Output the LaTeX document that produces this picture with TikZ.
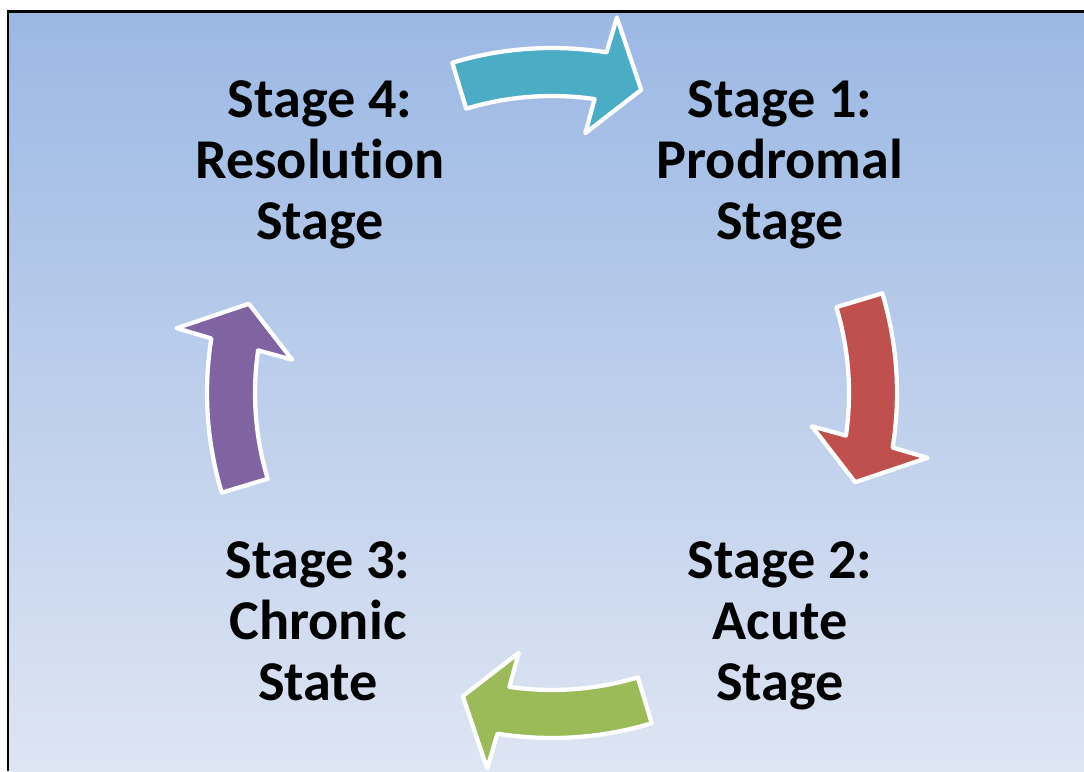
\documentclass[tikz,border=0pt]{standalone}
\usepackage{fontspec}
\setmainfont[Ligatures=NoCommon]{Carlito}
\usetikzlibrary{positioning}

\definecolor{bgTop}{RGB}{155,184,228}
\definecolor{bgBottom}{RGB}{222,229,243}
\definecolor{arrTeal}{RGB}{75,172,198}
\definecolor{arrRed}{RGB}{192,80,77}
\definecolor{arrGreen}{RGB}{155,187,89}
\definecolor{arrPurple}{RGB}{128,100,162}

\begin{document}
\begin{tikzpicture}[%
    x=0.02cm, y=0.02cm,
    stagetext/.style={align=center, inner sep=0pt,
      font=\fontsize{32}{34.6}\selectfont\bfseries},
    stagearrow/.style={draw=white, line width=0.085cm, line join=round}
  ]

  \fill[white] (0,0) rectangle (1084,771);
  \useasboundingbox (0,0) rectangle (1084,771);
  \fill[top color=bgTop, bottom color=bgBottom] (9,0) rectangle (1084,759);
  \draw[line width=0.06cm] (8,0) -- (8,759.7) -- (1084,759.7);

  \coordinate (c) at (552,378);

  \node[stagetext] (s1) at (780,606) {Stage 1:\\Prodromal\\Stage};
  \node[stagetext] (s2) at (780,145) {Stage 2:\\Acute\\Stage};
  \node[stagetext] (s3) at (318,150) {Stage 3:\\Chronic\\State};
  \node[stagetext] (s4) at (320,606) {Stage 4:\\Resolution\\Stage};

  % one arc arrow, turned round the centre for each step
  \foreach \rot/\col in {0/arrTeal, -90/arrRed, -180/arrGreen, 90/arrPurple} {
    \begin{scope}[shift={(c)}, rotate=\rot]
      \filldraw[stagearrow, fill=\col]
        (106.8:345) arc[start angle=106.8, end angle=80.9, radius=6.9cm]
        -- (80.2:381) -- (73.6:316) -- (82.7:262) -- (81.75:297)
        arc[start angle=81.75, end angle=106.8, radius=5.94cm] -- cycle;
    \end{scope}
  }
\end{tikzpicture}
\end{document}
